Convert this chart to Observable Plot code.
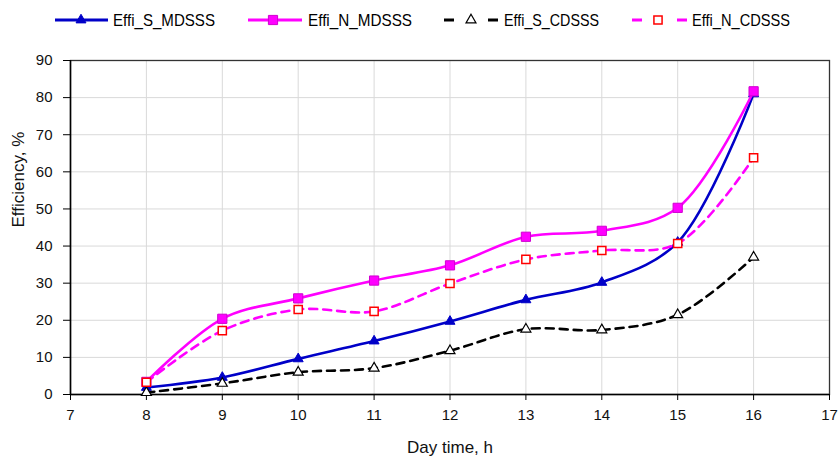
<!DOCTYPE html>
<html>
<head>
<meta charset="utf-8">
<script src="https://cdn.jsdelivr.net/npm/d3@7"></script>
<script src="https://cdn.jsdelivr.net/npm/@observablehq/plot@0.6"></script>
<style>
  html, body { margin: 0; padding: 0; background: #fff; }
  #chart { width: 838px; }
  svg { display: block; }
</style>
</head>
<body>
<div id="chart"></div>
<script>
// ---- data ----
const hours   = [8, 9, 10, 11, 12, 13, 14, 15, 16];
const effSMD  = [1.9, 4.6, 9.6, 14.4, 19.7, 25.5, 30.2, 41.0, 81.0];
const effNMD  = [3.4, 20.4, 25.9, 30.7, 34.8, 42.5, 44.1, 50.3, 81.7];
const effSCD  = [0.5, 3.0, 6.0, 7.1, 11.8, 17.6, 17.4, 21.5, 37.0];
const effNCD  = [3.3, 17.2, 22.9, 22.4, 29.9, 36.4, 38.8, 40.7, 63.8];
const seriesNames = ["Effi_S_MDSSS", "Effi_N_MDSSS", "Effi_S_CDSSS", "Effi_N_CDSSS"];
const xTicks = [7, 8, 9, 10, 11, 12, 13, 14, 15, 16, 17];
const yTicks = [0, 10, 20, 30, 40, 50, 60, 70, 80, 90];
const xTitle = "Day time, h";
const yTitle = "Efficiency, %";

const FONT = "'Liberation Sans', Arial, sans-serif";
const BLUE = "#0000c8", MAG = "#ff00ff", RED = "#ff0000";

const styles = [
  {stroke: BLUE, dash: null, symbol: "triangle", r: 3.7, fill: BLUE, mstroke: BLUE, msw: 1},
  {stroke: MAG, dash: null, symbol: "square", r: 5.2, fill: MAG, mstroke: "#d000d0", msw: 1},
  {stroke: "#000", dash: "8,6", symbol: "triangle", r: 3.7, fill: "#fff", mstroke: "#000", msw: 1.2},
  {stroke: MAG, dash: "8,6", symbol: "square", r: 4.6, fill: "#fff", mstroke: RED, msw: 1.5}
];
const valuesList = [effSMD, effNMD, effSCD, effNCD];
const seriesData = valuesList.map((vals, s) => hours.map((h, i) => ({x: h, y: vals[i], s: seriesNames[s]})));

// ---- legend (SVG above plot) ----
const legend = d3.create("svg").attr("width", 838).attr("height", 40)
  .style("font-family", FONT);
const legItems = [
  {x0: 55, x1: 108, m: 81, tx: 113, tw: 102},
  {x0: 248, x1: 302, m: 273, tx: 308, tw: 104},
  {x0: 444, x1: 498, m: 471, tx: 504, tw: 95},
  {x0: 632, x1: 687, m: 658, tx: 692, tw: 98}
];
const LY = 20;
legItems.forEach((it, i) => {
  const st = styles[i];
  if (st.dash) {
    legend.append("line").attr("x1", it.x0).attr("x2", it.x0 + 10).attr("y1", LY).attr("y2", LY)
      .attr("stroke", st.stroke).attr("stroke-width", 3);
    legend.append("line").attr("x1", it.x1 - 10).attr("x2", it.x1).attr("y1", LY).attr("y2", LY)
      .attr("stroke", st.stroke).attr("stroke-width", 3);
  } else {
    legend.append("line").attr("x1", it.x0).attr("x2", it.x1).attr("y1", LY).attr("y2", LY)
      .attr("stroke", st.stroke).attr("stroke-width", 3);
  }
  const sym = st.symbol === "triangle" ? d3.symbolTriangle : d3.symbolSquare;
  legend.append("path").attr("d", d3.symbol(sym, Math.PI * st.r * st.r)())
    .attr("transform", `translate(${it.m},${LY})`)
    .attr("fill", st.fill).attr("stroke", st.mstroke).attr("stroke-width", st.msw);
  legend.append("text").attr("x", it.tx).attr("y", LY).attr("dy", "0.36em")
    .attr("font-size", 17).attr("fill", "#000")
    .attr("textLength", it.tw).attr("lengthAdjust", "spacingAndGlyphs")
    .text(seriesNames[i]);
});

// ---- plot ----
const marks = [
  Plot.gridX(xTicks, {stroke: "#d9d9d9", strokeOpacity: 1, strokeWidth: 1}),
  Plot.gridY(yTicks, {stroke: "#d9d9d9", strokeOpacity: 1, strokeWidth: 1}),
  Plot.frame({stroke: "#333", strokeWidth: 1.3}),
  Plot.ruleX([7], {stroke: "#000", strokeWidth: 1.5}),
  Plot.ruleY([0], {stroke: "#000", strokeWidth: 1.5}),
  Plot.axisX(xTicks, {tickSize: 6, tickPadding: 9, fontSize: 15, stroke: "#000", label: null, fill: "#111"}),
  Plot.axisY(yTicks, {tickSize: 7, tickPadding: 11, fontSize: 15, stroke: "#000", label: null, fill: "#111"}),
  Plot.text([xTitle], {frameAnchor: "bottom", dy: 53, fontSize: 17, lineAnchor: "middle", fill: "#111"}),
  Plot.text([yTitle], {frameAnchor: "left", dx: -52, rotate: -90, fontSize: 17, lineAnchor: "middle", fill: "#111"})
];
seriesData.forEach((data, i) => {
  const st = styles[i];
  marks.push(Plot.line(data, {x: "x", y: "y", stroke: st.stroke, strokeWidth: 2.6,
    strokeDasharray: st.dash || undefined, curve: "catmull-rom"}));
  marks.push(Plot.dot(data, {x: "x", y: "y", symbol: st.symbol, r: st.r,
    fill: st.fill, stroke: st.mstroke, strokeWidth: st.msw}));
});

const plot = Plot.plot({
  width: 838,
  height: 416,
  marginLeft: 70,
  marginRight: 9,
  marginTop: 20,
  marginBottom: 62,
  style: {fontFamily: FONT, background: "#fff", overflow: "visible"},
  x: {domain: [7, 17], label: null},
  y: {domain: [0, 90], label: null},
  marks
});

const root = document.getElementById("chart");
root.appendChild(legend.node());
root.appendChild(plot);
</script>
</body>
</html>
